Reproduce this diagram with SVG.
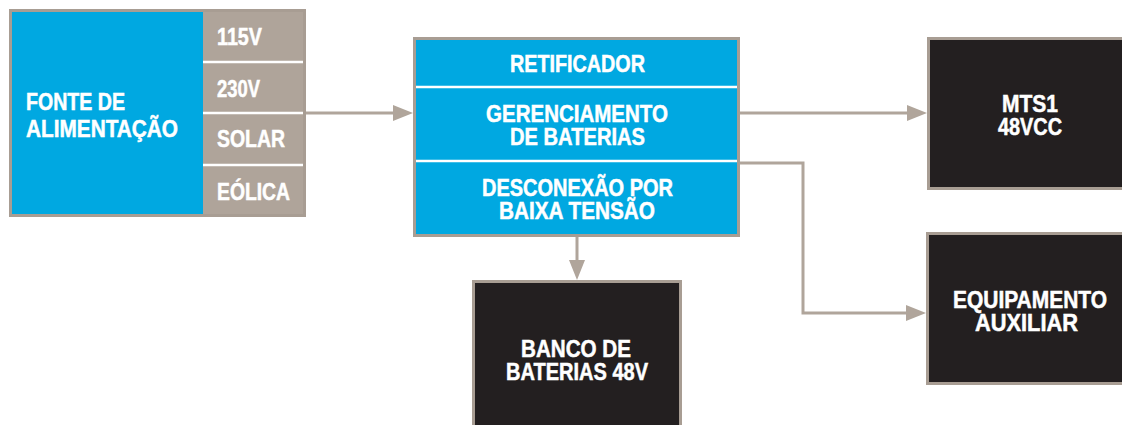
<svg xmlns="http://www.w3.org/2000/svg" width="1122" height="425" viewBox="0 0 1122 425">
<defs>
<style>
text{font-family:"Liberation Sans",Arial,sans-serif;font-weight:bold;fill:#ffffff;stroke:#ffffff;stroke-width:0.5;font-size:23px}
.frame{stroke:#a89d93;stroke-width:3}
.blue{fill:#00a8e1}
.tan{fill:#afa49a}
.dark{fill:#231f20}
.div{stroke:#ffffff;stroke-width:2.5}
.conn{fill:none;stroke:#b0a59b;stroke-width:3;marker-end:url(#arr)}
</style>
<marker id="arr" markerUnits="userSpaceOnUse" markerWidth="20" markerHeight="16" refX="10" refY="8" orient="auto">
<path d="M0,0 L20,8 L0,16 z" fill="#b0a59b"/>
</marker>
</defs>
<rect width="1122" height="425" fill="#ffffff"/>
<g id="connectors">
<path class="conn" d="M306 113 H403"/>
<path class="conn" d="M740 113 H917"/>
<path class="conn" d="M740 163 H803 V313 H916"/>
<path class="conn" d="M577 237 V270"/>
</g>
<g id="fonte">
<rect class="blue" x="12" y="12" width="191" height="203"/>
<rect class="tan" x="203" y="12" width="101" height="203"/>
<rect class="frame" x="10.5" y="10.5" width="294" height="205" fill="none"/>
<line class="div" x1="203" y1="62" x2="303" y2="62"/>
<line class="div" x1="203" y1="113" x2="303" y2="113"/>
<line class="div" x1="203" y1="165" x2="303" y2="165"/>
<text x="26" y="110" font-size="24" textLength="99" lengthAdjust="spacingAndGlyphs">FONTE DE</text>
<text x="26" y="137" font-size="24" textLength="152" lengthAdjust="spacingAndGlyphs">ALIMENTAÇÃO</text>
<text x="217" y="45" textLength="45" lengthAdjust="spacingAndGlyphs">115V</text>
<text x="217" y="97" textLength="43" lengthAdjust="spacingAndGlyphs">230V</text>
<text x="217" y="147" textLength="68" lengthAdjust="spacingAndGlyphs">SOLAR</text>
<text x="217" y="200" textLength="73" lengthAdjust="spacingAndGlyphs">EÓLICA</text>
</g>
<g id="controlador">
<rect class="blue frame" x="414.5" y="38.5" width="324" height="197"/>
<line class="div" x1="416" y1="87" x2="737" y2="87"/>
<line class="div" x1="416" y1="161" x2="737" y2="161"/>
<text x="510" y="72" font-size="24" textLength="135" lengthAdjust="spacingAndGlyphs">RETIFICADOR</text>
<text x="486" y="122" font-size="24" textLength="182" lengthAdjust="spacingAndGlyphs">GERENCIAMENTO</text>
<text x="510" y="145" font-size="24" textLength="135" lengthAdjust="spacingAndGlyphs">DE BATERIAS</text>
<text x="482" y="196" font-size="24" textLength="191" lengthAdjust="spacingAndGlyphs">DESCONEXÃO POR</text>
<text x="499" y="219" font-size="24" textLength="156" lengthAdjust="spacingAndGlyphs">BAIXA TENSÃO</text>
</g>
<g id="mts1">
<rect class="dark frame" x="928.5" y="38.5" width="210" height="150"/>
<text x="1002" y="112" font-size="24" textLength="56" lengthAdjust="spacingAndGlyphs">MTS1</text>
<text x="998" y="135" font-size="24" textLength="64" lengthAdjust="spacingAndGlyphs">48VCC</text>
</g>
<g id="equipamento">
<rect class="dark frame" x="927.5" y="233.5" width="210" height="150"/>
<text x="953" y="308" font-size="24" textLength="154" lengthAdjust="spacingAndGlyphs">EQUIPAMENTO</text>
<text x="975" y="331" font-size="24" textLength="103" lengthAdjust="spacingAndGlyphs">AUXILIAR</text>
</g>
<g id="banco">
<rect class="dark frame" x="473.5" y="281.5" width="207" height="160"/>
<text x="521" y="357" font-size="24" textLength="110" lengthAdjust="spacingAndGlyphs">BANCO DE</text>
<text x="506" y="380" font-size="24" textLength="142" lengthAdjust="spacingAndGlyphs">BATERIAS 48V</text>
</g>
</svg>
